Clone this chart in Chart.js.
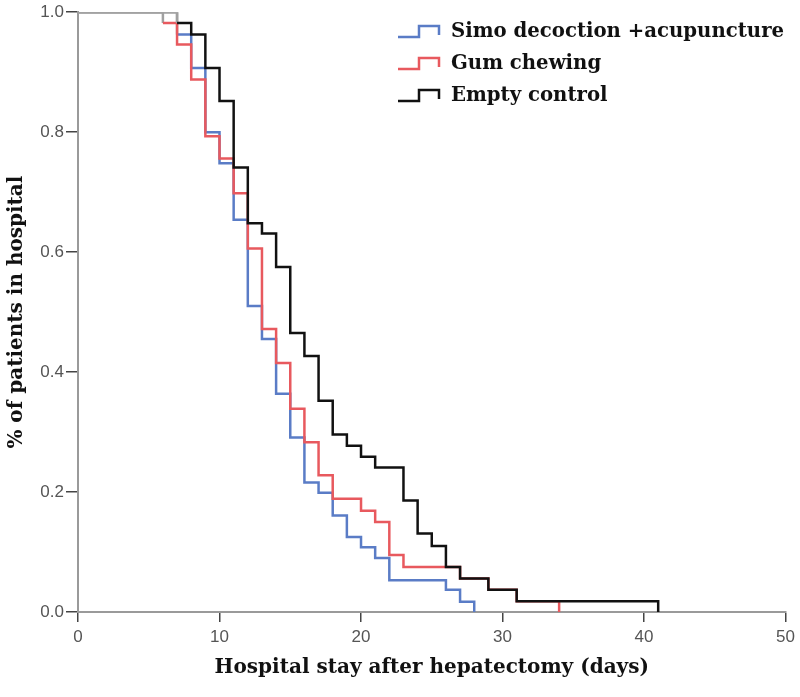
<!DOCTYPE html>
<html>
<head>
<meta charset="utf-8">
<script src="https://cdn.jsdelivr.net/npm/chart.js@4"></script>
<style>
  body { margin: 0; background: #fff; }
  #wrap { width: 800px; height: 697px; }
</style>
</head>
<body>
<div id="wrap"><canvas id="kmChart"></canvas></div>
<script>
// Kaplan-Meier steps: day, fraction still in hospital
const simoDays = [0, 7, 8, 9, 10, 11, 12, 13, 14, 15, 16, 17, 18, 19, 20, 21, 22, 26, 27, 28];
const simoVals = [1, 0.963, 0.907, 0.80, 0.748, 0.654, 0.51, 0.455, 0.364, 0.291, 0.216, 0.199, 0.161, 0.125, 0.108, 0.090, 0.053, 0.037, 0.017, 0];

const gumDays = [0, 6, 7, 8, 9, 10, 11, 12, 13, 14, 15, 16, 17, 18, 20, 21, 22, 23, 27, 29, 31, 34];
const gumVals = [1, 0.982, 0.946, 0.888, 0.793, 0.756, 0.698, 0.606, 0.472, 0.415, 0.339, 0.283, 0.228, 0.189, 0.169, 0.150, 0.095, 0.075, 0.056, 0.037, 0.018, 0];

const ctrlDays = [0, 7, 8, 9, 10, 11, 12, 13, 14, 15, 16, 17, 18, 19, 20, 21, 23, 24, 25, 26, 27, 29, 31, 41];
const ctrlVals = [1, 0.982, 0.963, 0.907, 0.852, 0.741, 0.648, 0.631, 0.575, 0.465, 0.427, 0.352, 0.296, 0.277, 0.259, 0.241, 0.186, 0.131, 0.110, 0.075, 0.056, 0.037, 0.018, 0];

const groupNames = ['Simo decoction +acupuncture', 'Gum chewing', 'Empty control'];
const groupColors = ['#5a7cc6', '#e8595e', '#111111'];

const xTicks = [0, 10, 20, 30, 40, 50];

function toPoints(days, vals) {
    return days.map((d, i) => ({ x: d, y: vals[i] }));
}

function makeSet(i, days, vals) {
    return {
        label: groupNames[i],
        data: toPoints(days, vals),
        stepped: 'before',
        borderColor: groupColors[i],
        borderWidth: 2.5,
        pointRadius: 0,
        fill: false,
        order: 2 - i, // control drawn on top, as in the original
        segment: {
            // the shared top line at 1.0 shows grey in the original
            borderColor: c => c.p0.parsed.y === 1 ? '#a0a0a0' : undefined
        }
    };
}

const serif = '"DejaVu Serif", "Liberation Serif", serif';
const sans = '"Liberation Sans", Arial, sans-serif';

const stepLegend = {
    id: 'stepLegend',
    afterDraw(chart) {
        const g = chart.ctx;
        const rows = [32, 64, 96];
        g.save();
        chart.data.datasets.forEach((ds, i) => {
            const y = rows[i];
            g.strokeStyle = groupColors[i];
            g.lineWidth = 2.5;
            g.beginPath();
            g.moveTo(398, y + 5);
            g.lineTo(419, y + 5);
            g.lineTo(419, y - 6);
            g.lineTo(439, y - 6);
            g.lineTo(439, y + 3);
            g.stroke();
            g.fillStyle = '#111';
            g.font = 'bold 19.7px ' + serif;
            g.textBaseline = 'middle';
            g.fillText(ds.label, 451, y);
        });
        g.restore();
    }
};

const ctx = document.getElementById('kmChart').getContext('2d');
const kmChart = new Chart(ctx, {
    type: 'line',
    data: {
        datasets: [
            makeSet(0, simoDays, simoVals),
            makeSet(1, gumDays, gumVals),
            makeSet(2, ctrlDays, ctrlVals)
        ]
    },
    options: {
        responsive: true,
        maintainAspectRatio: false,
        animation: false,
        layout: { padding: { top: 12, right: 12, left: 0, bottom: 0 } },
        plugins: {
            legend: { display: false },
            tooltip: { enabled: false }
        },
        scales: {
            x: {
                type: 'linear',
                min: 0,
                max: 50,
                afterBuildTicks: s => { s.ticks = xTicks.map(v => ({ value: v })); },
                afterFit: s => { s.height = 85; },
                border: { color: '#9a9a9a', width: 2 },
                grid: { drawOnChartArea: false, color: '#444', tickLength: 10, lineWidth: 1.5 },
                ticks: { color: '#555', font: { family: sans, size: 17 }, padding: 5 },
                title: {
                    display: true,
                    text: 'Hospital stay after hepatectomy (days)',
                    color: '#111',
                    font: { family: serif, size: 20, weight: 'bold' },
                    padding: { top: 0, bottom: 17 }
                }
            },
            y: {
                min: 0,
                max: 1,
                afterFit: s => { s.width = 78; },
                border: { color: '#9a9a9a', width: 2 },
                grid: { drawOnChartArea: false, color: '#444', tickLength: 12, lineWidth: 1.5 },
                ticks: {
                    stepSize: 0.2,
                    color: '#555',
                    font: { family: sans, size: 17 },
                    padding: 2,
                    callback: v => v.toFixed(1)
                },
                title: {
                    display: true,
                    text: '% of patients in hospital',
                    color: '#111',
                    font: { family: serif, size: 20, weight: 'bold' },
                    padding: { top: 5, bottom: 0 }
                }
            }
        }
    },
    plugins: [stepLegend]
});
</script>
</body>
</html>
